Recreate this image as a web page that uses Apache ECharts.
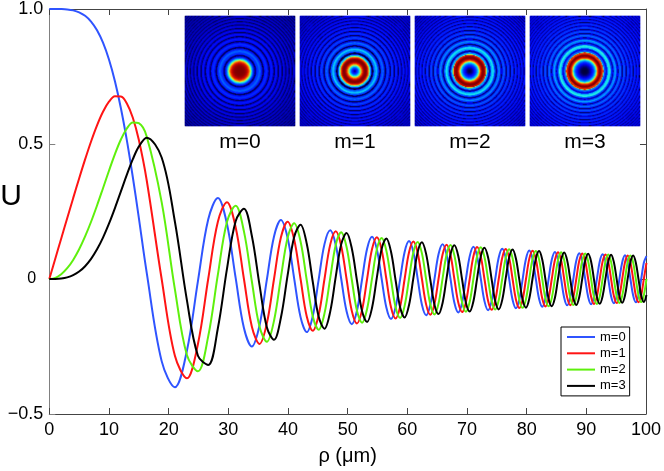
<!DOCTYPE html>
<html><head><meta charset="utf-8">
<script src="https://cdn.jsdelivr.net/npm/echarts@6/dist/echarts.min.js"></script>
<style>html,body{margin:0;padding:0;background:#fff;}#c{width:664px;height:471px;}</style>
</head><body><div id="c"></div>
<script>
// ---- data ----
const seriesNames = ['m=0', 'm=1', 'm=2', 'm=3'];
const insetLabels = ['m=0', 'm=1', 'm=2', 'm=3'];
const xTickStep = 10;
const yTickStep = 0.5;

// radial coordinate rho (um)
const rho = [
  0,1,2,3,4,5,6,7,8,9,10,11,12,13,14,15,
  16.31,18.83,21.05,23.06,24.91,26.63,28.25,29.77,
  31.23,32.62,33.95,35.23,36.46,37.66,38.82,39.95,
  41.04,42.11,43.15,44.16,45.15,46.12,47.08,48.01,
  48.92,49.82,50.70,51.57,52.42,53.26,54.09,54.90,
  55.70,56.49,57.27,58.04,58.80,59.55,60.29,61.02,
  61.74,62.45,63.16,63.86,64.55,65.23,65.91,66.58,
  67.24,67.89,68.54,69.19,69.82,70.46,71.08,71.70,
  72.32,72.93,73.54,74.14,74.73,75.32,75.91,76.49,
  77.07,77.64,78.21,78.77,79.33,79.89,80.44,80.99,
  81.54,82.08,82.62,83.15,83.68,84.21,84.74,85.26,
  85.78,86.29,86.80,87.31,87.82,88.32,88.82,89.32,
  89.81,90.31,90.80,91.28,91.77,92.25,92.73,93.21,
  93.68,94.15,94.62,95.09,95.55,96.02,96.48,96.93,
  97.39,97.85,98.30,98.75,99.20,99.64,100.08
];
const u0 = [
  1.000,1.000,0.9997,0.9984,0.9950,0.9878,0.9747,0.9534,0.9212,0.8753,0.8132,0.7327,0.6326,0.5133,0.3768,0.2276,
  0.0255,-0.3042,-0.4010,-0.2656,-0.0076,0.2203,0.3001,0.2045,
  0.0039,-0.1813,-0.2497,-0.1721,-0.0025,0.1576,0.2184,0.1514,
  0.0017,-0.1412,-0.1965,-0.1367,-0.0013,0.1291,0.1801,0.1256,
  0.0010,-0.1196,-0.1672,-0.1168,-0.0008,0.1120,0.1567,0.1097,
  0.0007,-0.1056,-0.1480,-0.1037,-0.0006,0.1003,0.1406,0.0986,
  0.0005,-0.0956,-0.1342,-0.0942,-0.0004,0.0916,0.1286,0.0903,
  0.0004,-0.0880,-0.1237,-0.0869,-0.0004,0.0848,0.1192,0.0838,
  0.0003,-0.0820,-0.1153,-0.0811,-0.0003,0.0794,0.1117,0.0786,
  0.0003,-0.0770,-0.1084,-0.0763,-0.0002,0.0749,0.1054,0.0742,
  0.0002,-0.0729,-0.1026,-0.0722,-0.0002,0.0710,0.1000,0.0704,
  0.0002,-0.0693,-0.0976,-0.0688,-0.0002,0.0677,0.0954,0.0672,
  0.0002,-0.0663,-0.0934,-0.0658,-0.0002,0.0649,0.0914,0.0644,
  0.0001,-0.0636,-0.0896,-0.0631,-0.0001,0.0623,0.0879,0.0619,
  0.0001,-0.0612,-0.0862,-0.0608,-0.0001,0.0601,0.0847
];
const u1 = [
  0,0.0751,0.1502,0.2251,0.2994,0.3724,0.4430,0.5094,0.5691,0.6194,0.6566,0.6767,0.6759,0.6503,0.5972,0.5154,
  0.3676,0,-0.2847,-0.3676,-0.2406,0,0.2122,0.2847,
  0.1920,0,-0.1766,-0.2406,-0.1644,0,0.1544,0.2122,
  0.1461,0,-0.1389,-0.1920,-0.1327,0,0.1273,0.1766,
  0.1225,0,-0.1182,-0.1644,-0.1143,0,0.1108,0.1544,
  0.1076,0,-0.1047,-0.1461,-0.1019,0,0.0994,0.1389,
  0.0971,0,-0.0949,-0.1327,-0.0929,0,0.0909,0.1273,
  0.0891,0,-0.0874,-0.1225,-0.0858,0,0.0843,0.1182,
  0.0829,0,-0.0815,-0.1143,-0.0802,0,0.0790,0.1108,
  0.0778,0,-0.0766,-0.1076,-0.0756,0,0.0745,0.1047,
  0.0735,0,-0.0725,-0.1019,-0.0716,0,0.0707,0.0994,
  0.0699,0,-0.0690,-0.0971,-0.0683,0,0.0675,0.0949,
  0.0667,0,-0.0660,-0.0929,-0.0653,0,0.0646,0.0910,
  0.0640,0,-0.0633,-0.0891,-0.0627,0,0.0621,0.0874,
  0.0615,0,-0.0610,-0.0858,-0.0604,0,0.0599
];
const u2 = [
  0,0.0044,0.0177,0.0399,0.0707,0.1101,0.1575,0.2120,0.2723,0.3362,0.4009,0.4626,0.5166,0.5575,0.5799,0.5771,
  0.5288,0.2846,-0.0385,-0.2818,-0.3416,-0.2124,0.0159,0.2109,
  0.2715,0.1765,-0.0092,-0.1759,-0.2325,-0.1544,0.0061,0.1540,
  0.2066,0.1390,-0.0045,-0.1387,-0.1877,-0.1274,0.0034,0.1271,
  0.1733,0.1183,-0.0028,-0.1181,-0.1617,-0.1109,0.0023,0.1107,
  0.1522,0.1047,-0.0019,-0.1046,-0.1442,-0.0995,0.0016,0.0993,
  0.1373,0.0949,-0.0014,-0.0948,-0.1313,-0.0910,0.0013,0.0909,
  0.1261,0.0875,-0.0011,-0.0874,-0.1214,-0.0843,0.0010,0.0843,
  0.1172,0.0815,-0.0009,-0.0815,-0.1134,-0.0790,0.0008,0.0789,
  0.1100,0.0767,-0.0008,-0.0766,-0.1069,-0.0745,0.0007,0.0745,
  0.1040,0.0726,-0.0006,-0.0725,-0.1013,-0.0708,0.0006,0.0707,
  0.0988,0.0691,-0.0005,-0.0690,-0.0965,-0.0675,0.0005,0.0675,
  0.0944,0.0660,-0.0005,-0.0660,-0.0924,-0.0647,0.0004,0.0646,
  0.0905,0.0634,-0.0004,-0.0633,-0.0887,-0.0621,0.0004,0.0621,
  0.0870,0.0610,-0.0004,-0.0610,-0.0854,-0.0599,0.0004
];
const u3 = [
  0,0.0002,0.0018,0.0060,0.0142,0.0276,0.0474,0.0747,0.1100,0.1535,0.2049,0.2627,0.3244,0.3864,0.4438,0.4903,
  0.5235,0.4502,0.2122,-0.0780,-0.2844,-0.3183,-0.1822,0.0363,
  0.2142,0.2599,0.1593,-0.0219,-0.1783,-0.2251,-0.1428,0.0150,
  0.1558,0.2013,0.1305,-0.0111,-0.1401,-0.1838,-0.1208,0.0086,
  0.1283,0.1701,0.1130,-0.0070,-0.1190,-0.1592,-0.1065,0.0058,
  0.1115,0.1501,0.1011,-0.0049,-0.1053,-0.1424,-0.0963,0.0042,
  0.1000,0.1357,0.0922,-0.0037,-0.0954,-0.1300,-0.0886,0.0032,
  0.0914,0.1249,0.0853,-0.0029,-0.0878,-0.1203,-0.0824,0.0026,
  0.0847,0.1162,0.0798,-0.0023,-0.0818,-0.1125,-0.0774,0.0021,
  0.0793,0.1092,0.0752,-0.0020,-0.0769,-0.1061,-0.0732,0.0018,
  0.0748,0.1033,0.0713,-0.0017,-0.0728,-0.1007,-0.0696,0.0015,
  0.0709,0.0982,0.0680,-0.0014,-0.0692,-0.0960,-0.0665,0.0013,
  0.0677,0.0939,0.0651,-0.0013,-0.0662,-0.0919,-0.0638,0.0012,
  0.0648,0.0900,0.0625,-0.0011,-0.0635,-0.0883,-0.0614,0.0011,
  0.0623,0.0866,0.0603,-0.0010,-0.0611,-0.0851,-0.0592
];
const profiles = [u0, u1, u2, u3];

// ---- styling / layout ----
const FONT = '"Liberation Sans", Arial, Helvetica, sans-serif';
const lineColors = ['#2f54ff', '#ff1414', '#5ef00c', '#000000'];
const jetLike = ['#00003c','#0000c0','#000cff','#0030ff','#0060ff','#00b0ff','#1ef0ec','#d1ff32','#ff6c00','#d50b00','#800000'];
const insetLefts = [185, 300, 415, 530];
const insetTop = 16, insetSize = 110, insetScale = 1.06;
const axisColor = '#444';

function nearestIndex(r) {
  let lo = 0, hi = rho.length - 1;
  if (r <= rho[0]) return 0;
  if (r >= rho[hi]) return hi;
  while (hi - lo > 1) { const mid = (lo + hi) >> 1; if (rho[mid] <= r) lo = mid; else hi = mid; }
  return (r - rho[lo] <= rho[hi] - r) ? lo : hi;
}
// image table: each pixel takes the nearest sampled |U| (2x2 sub-pixel lookups averaged)
function buildInset(u) {
  const mx = Math.max.apply(null, u.map(Math.abs));
  const c = (insetSize - 1) / 2;
  const subs = [-0.25, 0.25];
  const out = [];
  for (let i = 0; i < insetSize; i++) {
    for (let j = 0; j < insetSize; j++) {
      let s = 0;
      for (const di of subs) for (const dj of subs) {
        const r = Math.hypot(i + di - c, j + dj - c) * insetScale;
        s += Math.abs(u[nearestIndex(r)]);
      }
      out.push([i, j, s / 4 / mx]);
    }
  }
  return out;
}
const cats = Array.from({length: insetSize}, (_, i) => i);

const boxAxis = (extra) => Object.assign({
  axisLine: {onZero: false, lineStyle: {color: axisColor, width: 1}},
  axisTick: {inside: true, length: 6, lineStyle: {color: axisColor}},
  splitLine: {show: false}
}, extra);

const grids = [{left: 49.3, right: 16.7, top: 7.5, bottom: 54.7}];
const xAxes = [
  boxAxis({type: 'value', gridIndex: 0, min: 0, max: 100, interval: xTickStep, position: 'bottom',
   axisLabel: {fontSize: 18, color: '#000', fontFamily: FONT, margin: 7},
   name: 'ρ (μm)', nameLocation: 'middle', nameGap: 32,
   nameTextStyle: {fontSize: 20, color: '#000', fontFamily: FONT}}),
  boxAxis({type: 'value', gridIndex: 0, min: 0, max: 100, interval: xTickStep, position: 'top',
   axisLabel: {show: false}})
];
const yAxes = [
  boxAxis({type: 'value', gridIndex: 0, min: -0.5, max: 1, interval: yTickStep, position: 'left',
   axisLine: {onZero: false, lineStyle: {color: '#808080', width: 1}},
   axisTick: {inside: true, length: 6, lineStyle: {color: '#808080'}},
   axisLabel: {fontSize: 18, color: '#000', fontFamily: FONT, margin: 6,
     formatter: v => v === 0 ? '{z|0}' : (v < 0 ? '\u2212' : '') + Math.abs(v).toFixed(1),
     rich: {z: {fontSize: 16, color: '#000', fontFamily: FONT, width: 16, align: 'left'}}}}),
  boxAxis({type: 'value', gridIndex: 0, min: -0.5, max: 1, interval: yTickStep, position: 'right',
   axisLabel: {show: false}})
];
const series = profiles.map((u, k) => ({
  type: 'line', name: seriesNames[k], xAxisIndex: 0, yAxisIndex: 0,
  data: rho.map((r, i) => [r, u[i]]),
  showSymbol: false, symbol: 'none', smooth: 0.35, clip: true,
  lineStyle: {color: lineColors[k], width: 2}, itemStyle: {color: lineColors[k]},
  emphasis: {disabled: true}, silent: true, z: 3
}));
const graphics = [{type: 'text', x: 11, y: 197,
  style: {text: 'U', font: '30px ' + FONT, fontSize: 30, fontFamily: FONT, fill: '#000',
          align: 'center', verticalAlign: 'middle', textAlign: 'center', textVerticalAlign: 'middle'}}];

profiles.forEach((u, k) => {
  grids.push({left: insetLefts[k], top: insetTop, width: insetSize, height: insetSize});
  xAxes.push({type: 'category', gridIndex: k + 1, data: cats, show: false});
  yAxes.push({type: 'category', gridIndex: k + 1, data: cats, show: false});
  series.push({type: 'heatmap', name: 'img' + k, xAxisIndex: k + 2, yAxisIndex: k + 2,
    data: buildInset(u), progressive: 0, silent: true, emphasis: {disabled: true},
    itemStyle: {borderWidth: 0}});
  graphics.push({type: 'text', x: insetLefts[k] + insetSize / 2, y: 142,
    style: {text: insetLabels[k], font: '21px ' + FONT, fontSize: 21, fontFamily: FONT, fill: '#000',
            align: 'center', verticalAlign: 'middle', textAlign: 'center', textVerticalAlign: 'middle'}});
});

const chart = echarts.init(document.getElementById('c'), null, {renderer: 'canvas'});
chart.setOption({
  animation: false,
  backgroundColor: '#fff',
  grid: grids, xAxis: xAxes, yAxis: yAxes,
  visualMap: {type: 'continuous', show: false, min: 0, max: 1, dimension: 2,
    seriesIndex: [4, 5, 6, 7], inRange: {color: jetLike}},
  legend: {data: seriesNames, orient: 'vertical', left: 561, top: 327,
    itemWidth: 28, itemHeight: 2, icon: 'rect', itemGap: 3.3,
    padding: [3.5, 4, 3.5, 6], borderColor: '#000', borderWidth: 1, backgroundColor: '#fff',
    selectedMode: false,
    textStyle: {fontSize: 13, color: '#000', fontFamily: FONT}},
  graphic: graphics,
  series: series
});
</script></body></html>
